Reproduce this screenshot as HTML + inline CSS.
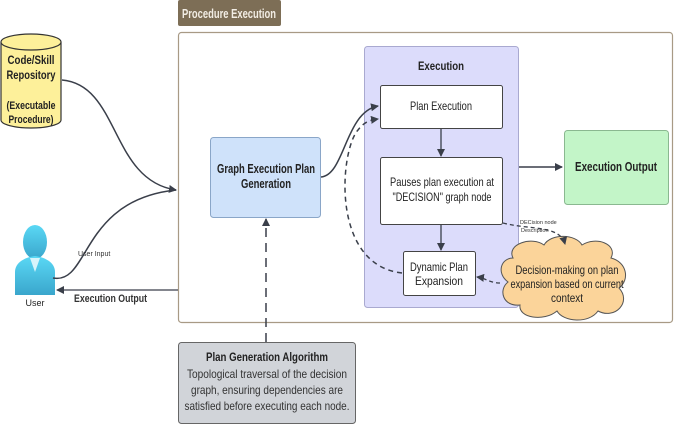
<!DOCTYPE html>
<html><head><meta charset="utf-8"><style>
html,body{margin:0;padding:0;background:#fff;}
svg{display:block;font-family:"Liberation Sans",sans-serif;}
</style></head><body>
<svg width="674" height="425" viewBox="0 0 674 425" xmlns="http://www.w3.org/2000/svg">
<defs>
<marker id="ah" markerWidth="8" markerHeight="8" refX="7" refY="4" orient="auto" markerUnits="userSpaceOnUse"><path d="M0,0 L8,4 L0,8 z" fill="#3a3f4a"/></marker>
<linearGradient id="ug" x1="0" y1="0" x2="0" y2="1"><stop offset="0" stop-color="#5ad8f5"/><stop offset="1" stop-color="#3aa6cc"/></linearGradient>
</defs>
<rect x="178.5" y="32.5" width="494" height="290" rx="3" fill="#fff" stroke="#a89a85" stroke-width="1.2"/>
<rect x="178" y="0" width="103" height="26" rx="2" fill="#7d6e56"/>
<text x="229" y="18" font-size="13" font-weight="bold" fill="#f2ede4" text-anchor="middle" textLength="94" lengthAdjust="spacingAndGlyphs">Procedure Execution</text>
<rect x="364.5" y="46.5" width="154" height="261" rx="3" fill="#dcdcfb" stroke="#a9a9d0"/>
<text x="441" y="70" font-size="11.5" font-weight="bold" fill="#222" text-anchor="middle" textLength="46" lengthAdjust="spacingAndGlyphs">Execution</text>
<rect x="380.5" y="85.5" width="122" height="43" rx="2" fill="#fff" stroke="#444"/>
<text x="441" y="110" font-size="12" fill="#222" text-anchor="middle" textLength="62" lengthAdjust="spacingAndGlyphs">Plan Execution</text>
<rect x="380.5" y="157.5" width="122" height="67" rx="2" fill="#fff" stroke="#444"/>
<text x="442" y="186" font-size="12" fill="#222" text-anchor="middle" textLength="104" lengthAdjust="spacingAndGlyphs">Pauses plan execution at</text>
<text x="442" y="201" font-size="12" fill="#222" text-anchor="middle" textLength="99" lengthAdjust="spacingAndGlyphs">"DECISION" graph node</text>
<rect x="403.5" y="251.5" width="72" height="44" rx="2" fill="#fff" stroke="#444"/>
<text x="439" y="271" font-size="12" fill="#222" text-anchor="middle" textLength="58" lengthAdjust="spacingAndGlyphs">Dynamic Plan</text>
<text x="439" y="285" font-size="12" fill="#222" text-anchor="middle" textLength="48" lengthAdjust="spacingAndGlyphs">Expansion</text>
<line x1="441" y1="129" x2="441" y2="156" stroke="#3a3f4a" stroke-width="1.3" marker-end="url(#ah)"/>
<line x1="441" y1="225" x2="441" y2="250" stroke="#3a3f4a" stroke-width="1.3" marker-end="url(#ah)"/>
<rect x="564.5" y="130.5" width="104" height="74" rx="3" fill="#c3f5c8" stroke="#8ab890"/>
<text x="616" y="171" font-size="12.5" font-weight="bold" fill="#222" text-anchor="middle" textLength="82" lengthAdjust="spacingAndGlyphs">Execution  Output</text>
<line x1="519" y1="167" x2="562" y2="167" stroke="#3a3f4a" stroke-width="1.5" marker-end="url(#ah)"/>
<rect x="210.5" y="137.5" width="110" height="80" rx="3" fill="#cfe2fa" stroke="#8aa6c8"/>
<text x="266" y="173" font-size="12.5" font-weight="bold" fill="#222" text-anchor="middle" textLength="98" lengthAdjust="spacingAndGlyphs">Graph Execution Plan</text>
<text x="266" y="188" font-size="12.5" font-weight="bold" fill="#222" text-anchor="middle" textLength="50" lengthAdjust="spacingAndGlyphs">Generation</text>
<path d="M321,177 C345,175 345,112 378,106" fill="none" stroke="#3a3f4a" stroke-width="1.5" marker-end="url(#ah)"/>
<path d="M402,273 C330,265 340,150 358,130 C364,122 370,120 378,119" fill="none" stroke="#3a3f4a" stroke-width="1.5" stroke-dasharray="5,4" marker-end="url(#ah)"/>
<path d="M513,258 C506,244 532,236 544,245 C551,233 576,234 582,245 C596,236 618,244 611,258 C627,262 630,280 619,288 C632,302 615,320 598,311 C589,324 563,322 557,311 C544,322 518,318 520,305 C503,307 498,290 508,282 C496,273 501,258 513,258 z" fill="#fbd49a" stroke="#555" stroke-width="1"/>
<text x="567" y="274" font-size="12" fill="#222" text-anchor="middle" textLength="103" lengthAdjust="spacingAndGlyphs">Decision-making on plan</text>
<text x="567" y="288" font-size="12" fill="#222" text-anchor="middle" textLength="113" lengthAdjust="spacingAndGlyphs">expansion based on current</text>
<text x="567" y="302" font-size="12" fill="#222" text-anchor="middle" textLength="32" lengthAdjust="spacingAndGlyphs">context</text>
<path d="M503,223 C530,230 560,225 565,244" fill="none" stroke="#3a3f4a" stroke-width="1.3" stroke-dasharray="4,3" marker-end="url(#ah)"/>
<text x="520" y="224" font-size="5.5" fill="#333">DECision node</text>
<text x="521" y="232" font-size="5.5" fill="#333">Description</text>
<path d="M500,283 C490,283 485,278 477,277" fill="none" stroke="#3a3f4a" stroke-width="1.3" stroke-dasharray="4,3" marker-end="url(#ah)"/>
<path d="M1,42 L1,120 A30,8 0 0 0 61,120 L61,42" fill="#fdf09a" stroke="#333" stroke-width="1.2"/>
<ellipse cx="31" cy="42" rx="30" ry="8" fill="#fdf09a" stroke="#333" stroke-width="1.2"/>
<text x="31" y="64" font-size="12" font-weight="bold" fill="#222" text-anchor="middle" textLength="47" lengthAdjust="spacingAndGlyphs">Code/Skill</text>
<text x="31" y="79" font-size="12" font-weight="bold" fill="#222" text-anchor="middle" textLength="49" lengthAdjust="spacingAndGlyphs">Repository</text>
<text x="31" y="109" font-size="11" font-weight="bold" fill="#222" text-anchor="middle" textLength="49" lengthAdjust="spacingAndGlyphs">(Executable</text>
<text x="31" y="123" font-size="11" font-weight="bold" fill="#222" text-anchor="middle" textLength="45" lengthAdjust="spacingAndGlyphs">Procedure)</text>
<path d="M62,80 C120,85 110,180 176,190" fill="none" stroke="#3a3f4a" stroke-width="1.5" marker-end="url(#ah)"/>
<ellipse cx="35" cy="242" rx="12" ry="17" fill="url(#ug)"/>
<path d="M15,295 L15,272 C15,262 26,257 35,256 C44,257 55,262 55,272 L55,295 z" fill="url(#ug)"/>
<path d="M30,258 L35,272 L40,258 z" fill="#d8f4fb"/>
<text x="35" y="306" font-size="9" fill="#222" text-anchor="middle">User</text>
<path d="M53,278 C90,285 80,200 176,190" fill="none" stroke="#3a3f4a" stroke-width="1.5"/>
<text x="78" y="256" font-size="7" fill="#333">User Input</text>
<line x1="178" y1="290" x2="57" y2="290" stroke="#3a3f4a" stroke-width="1.3" marker-end="url(#ah)"/>
<text x="74" y="302" font-size="11" font-weight="bold" fill="#333" textLength="73" lengthAdjust="spacingAndGlyphs">Execution Output</text>
<line x1="266" y1="342" x2="266" y2="219" stroke="#3a3f4a" stroke-width="1.5" stroke-dasharray="9,6" marker-end="url(#ah)"/>
<rect x="178.5" y="342.5" width="177" height="81" rx="3" fill="#d1d4d9" stroke="#666"/>
<text x="267" y="361" font-size="12" font-weight="bold" fill="#222" text-anchor="middle" textLength="122" lengthAdjust="spacingAndGlyphs">Plan Generation Algorithm</text>
<text x="267" y="378" font-size="12" fill="#333" text-anchor="middle" textLength="160" lengthAdjust="spacingAndGlyphs">Topological traversal of the decision</text>
<text x="267" y="394" font-size="12" fill="#333" text-anchor="middle" textLength="152" lengthAdjust="spacingAndGlyphs">graph, ensuring dependencies are</text>
<text x="267" y="410" font-size="12" fill="#333" text-anchor="middle" textLength="165" lengthAdjust="spacingAndGlyphs">satisfied before executing each node.</text>
</svg>
</body></html>
